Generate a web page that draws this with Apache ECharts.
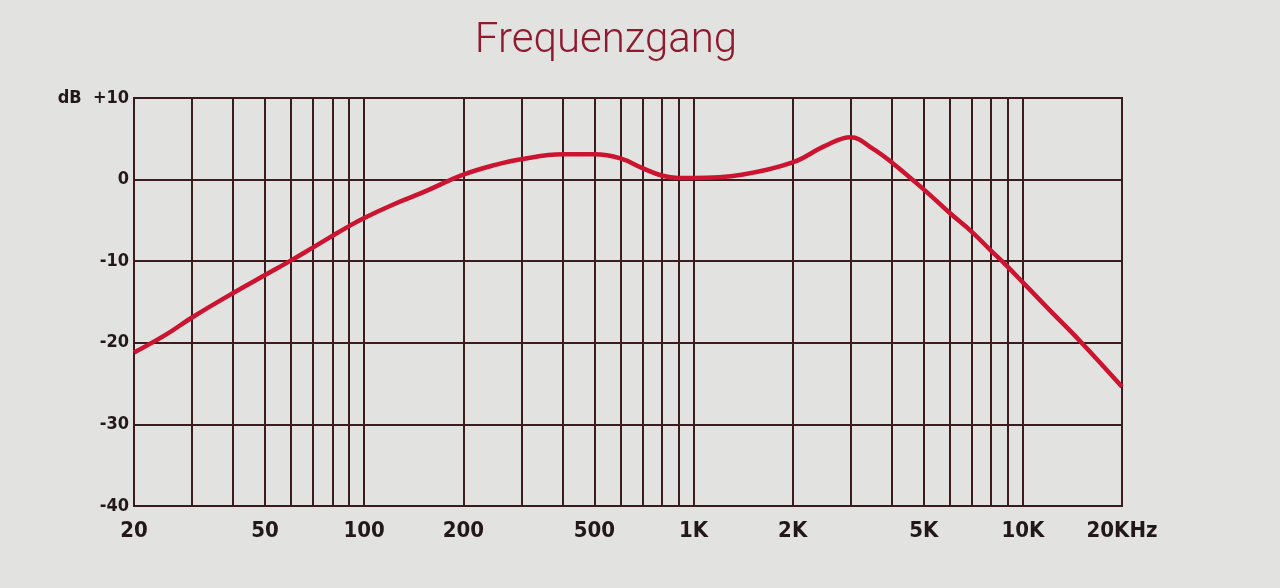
<!DOCTYPE html>
<html>
<head>
<meta charset="utf-8">
<script src="https://cdn.jsdelivr.net/npm/echarts@6/dist/echarts.min.js"></script>
<style>
  html, body { margin: 0; padding: 0; background: #e2e2e0; }
  #chart { width: 1280px; height: 588px; }
</style>
</head>
<body>
<div id="chart"></div>
<script>
// Frequency (Hz) and response (dB)
const freqs = [20, 25, 30, 40, 50, 60, 70, 80, 90, 100, 125, 150, 200, 250, 300, 400, 500, 600, 700, 800, 900, 1000, 1400, 2000, 2500, 3000, 3500, 4000, 5000, 6000, 7000, 8000, 9000, 10000, 12000, 15000, 20000];
const levels = [-21.2, -19.0, -16.9, -13.9, -11.7, -9.9, -8.3, -6.9, -5.7, -4.7, -2.9, -1.6, 0.6, 1.8, 2.5, 3.1, 3.1, 2.6, 1.4, 0.5, 0.2, 0.2, 0.6, 2.1, 4.1, 5.2, 3.8, 2.1, -1.2, -4.1, -6.4, -8.7, -10.7, -12.6, -15.9, -19.9, -25.4];

// Axis tick values
const xLabelValues = [20, 50, 100, 200, 500, 1000, 2000, 5000, 10000, 20000];
const xLabelTexts = ['20', '50', '100', '200', '500', '1K', '2K', '5K', '10K', '20KHz'];
const xGridValues = [30, 40, 50, 60, 70, 80, 90, 100, 200, 300, 400, 500, 600, 700, 800, 900, 1000, 2000, 3000, 4000, 5000, 6000, 7000, 8000, 9000, 10000];
const yMin = -40, yMax = 10, yStep = 10;

const gridColor = '#3a1b1e';
const labelFont = "'Liberation Sans Narrow', 'DejaVu Sans Condensed', sans-serif";

const chart = echarts.init(document.getElementById('chart'), null, { renderer: 'canvas' });
chart.setOption({
  backgroundColor: '#e2e2e0',
  animation: false,
  title: {
    text: 'Frequenzgang',
    left: 601,
    top: 15,
    textAlign: 'center',
    textStyle: { fontFamily: 'Roboto', fontWeight: 300, fontSize: 42, color: '#8e1a2e' }
  },
  grid: {
    left: 134, right: 158, top: 98, bottom: 82,
    show: true, borderColor: gridColor, borderWidth: 2, backgroundColor: 'transparent'
  },
  xAxis: {
    type: 'log',
    logBase: 10,
    min: 20,
    max: 20000,
    axisLine: { show: true, lineStyle: { color: gridColor, width: 2 } },
    axisTick: { show: false },
    splitLine: { show: false },
    minorSplitLine: { show: false },
    axisLabel: {
      customValues: xLabelValues,
      formatter: function (v) {
        const i = xLabelValues.indexOf(Math.round(v));
        return i >= 0 ? xLabelTexts[i] : '';
      },
      margin: 14,
      fontFamily: labelFont,
      fontWeight: 'bold',
      fontSize: 22,
      color: '#231818',
      showMinLabel: true,
      showMaxLabel: true,
      hideOverlap: false
    }
  },
  yAxis: {
    type: 'value',
    min: yMin,
    max: yMax,
    interval: yStep,
    axisLine: { show: true, lineStyle: { color: gridColor, width: 2 } },
    axisTick: { show: false },
    splitLine: { show: true, lineStyle: { color: gridColor, width: 2 } },
    axisLabel: {
      margin: 5,
      fontFamily: labelFont,
      fontWeight: 'bold',
      fontSize: 18,
      color: '#231818',
      formatter: function (v) { return v === yMax ? 'dB  +' + v : String(v); }
    }
  },
  series: [
    {
      type: 'line',
      name: 'grid',
      data: [],
      silent: true,
      z: 1,
      markLine: {
        silent: true,
        symbol: 'none',
        z: 1,
        label: { show: false },
        emphasis: { disabled: true },
        lineStyle: { color: gridColor, width: 2, type: 'solid' },
        data: xGridValues.map(v => ({ xAxis: v }))
      }
    },
    {
      type: 'line',
      name: 'Frequenzgang',
      data: freqs.map((f, i) => [f, levels[i]]),
      smooth: 0.4,
      showSymbol: false,
      symbol: 'none',
      z: 10,
      lineStyle: { color: '#cc1430', width: 4.5 }
    }
  ]
});
</script>
</body>
</html>
